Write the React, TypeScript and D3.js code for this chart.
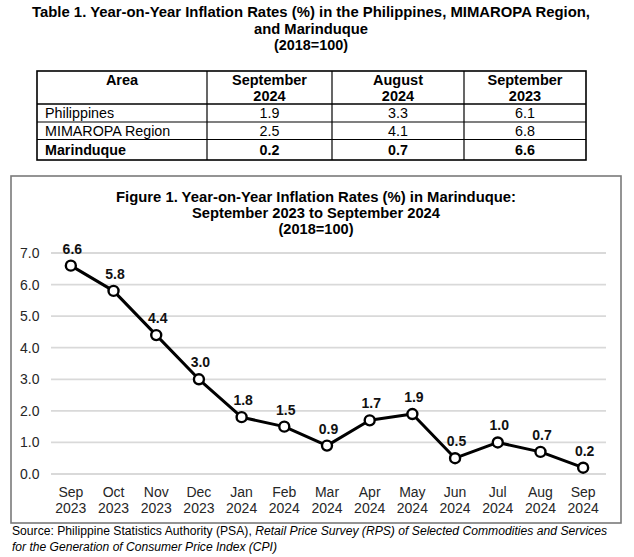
import React from "react";
import * as d3 from "d3";

const months = ["Sep", "Oct", "Nov", "Dec", "Jan", "Feb", "Mar", "Apr", "May", "Jun", "Jul", "Aug", "Sep"];
const years = ["2023", "2023", "2023", "2023", "2024", "2024", "2024", "2024", "2024", "2024", "2024", "2024", "2024"];
const values = [6.6, 5.8, 4.4, 3.0, 1.8, 1.5, 0.9, 1.7, 1.9, 0.5, 1.0, 0.7, 0.2];
const yTicks = [0, 1, 2, 3, 4, 5, 6, 7];

const tableTitle = [
  "Table 1. Year-on-Year Inflation Rates (%) in the Philippines, MIMAROPA Region,",
  "and Marinduque",
  "(2018=100)",
];
const tableHeader = [["Area"], ["September", "2024"], ["August", "2024"], ["September", "2023"]];
const areas = ["Philippines", "MIMAROPA Region", "Marinduque"];
const sep2024 = ["1.9", "2.5", "0.2"];
const aug2024 = ["3.3", "4.1", "0.7"];
const sep2023 = ["6.1", "6.8", "6.6"];

const chartTitle = [
  "Figure 1. Year-on-Year Inflation Rates (%) in Marinduque:",
  "September 2023 to September 2024",
  "(2018=100)",
];

const FONT = "'Liberation Sans', Arial, sans-serif";

export default function App() {
  const cats = months.map((m, i) => `${m} ${years[i]}-${i}`);
  const x = d3.scalePoint<string>().domain(cats).range([49.5, 604.5]).padding(0.5);
  const y = d3.scaleLinear().domain([0, 7]).range([474, 253]);
  const line = d3
    .line<number>()
    .x((_, i) => x(cats[i]) as number)
    .y((d) => y(d));

  const colX = [37, 207, 332, 464, 586];
  const rowY = [71, 104, 122, 139.5, 160];
  const cols = [areas, sep2024, aug2024, sep2023];

  const titleWidths = [558, 114, 74];
  const chartTitleWidths = [400, 248, 75];

  return (
    <svg
      width={634}
      height={557}
      style={{ position: "absolute", left: 0, top: 0, background: "#fff" }}
      fontFamily={FONT}
    >
      {/* Table title */}
      {tableTitle.map((t, i) => (
        <text
          key={i}
          x={311}
          y={17 + i * 16.5}
          textAnchor="middle"
          fontWeight="bold"
          fontSize={15}
          fill="#000"
          textLength={titleWidths[i]}
          lengthAdjust="spacingAndGlyphs"
        >
          {t}
        </text>
      ))}

      {/* Table */}
      <g>
        <rect x={colX[0]} y={rowY[0]} width={colX[4] - colX[0]} height={rowY[4] - rowY[0]} fill="none" stroke="#000" strokeWidth={1.6} />
        {colX.slice(1, 4).map((cx, i) => (
          <line key={i} x1={cx} x2={cx} y1={rowY[0]} y2={rowY[4]} stroke="#000" strokeWidth={1.2} />
        ))}
        {rowY.slice(1, 4).map((ry, i) => (
          <line key={i} x1={colX[0]} x2={colX[4]} y1={ry} y2={ry} stroke="#000" strokeWidth={i === 0 ? 1.4 : 1.2} />
        ))}
        {tableHeader.map((lines, c) =>
          lines.map((t, k) => (
            <text
              key={`${c}-${k}`}
              x={(colX[c] + colX[c + 1]) / 2}
              y={84.5 + k * 16}
              textAnchor="middle"
              fontWeight="bold"
              fontSize={14.5}
              fill="#000"
            >
              {t}
            </text>
          ))
        )}
        {cols.map((col, c) =>
          col.map((t, r) => (
            <text
              key={`${c}-${r}`}
              x={c === 0 ? colX[0] + 8 : (colX[c] + colX[c + 1]) / 2}
              y={[118.3, 136, 154.5][r]}
              textAnchor={c === 0 ? "start" : "middle"}
              fontWeight={r === 2 ? "bold" : "normal"}
              fontSize={14.3}
              fill="#000"
            >
              {t}
            </text>
          ))
        )}
      </g>

      {/* Chart frame */}
      <rect x={11} y={176} width={610} height={347} fill="#fff" stroke="#7a7a7a" strokeWidth={1.6} />

      {chartTitle.map((t, i) => (
        <text
          key={i}
          x={316}
          y={201.5 + i * 16.3}
          textAnchor="middle"
          fontWeight="bold"
          fontSize={14}
          fill="#000"
          textLength={chartTitleWidths[i]}
          lengthAdjust="spacingAndGlyphs"
        >
          {t}
        </text>
      ))}

      {/* Gridlines and y labels */}
      {yTicks.map((t) => (
        <g key={t}>
          <line x1={51} x2={606} y1={y(t)} y2={y(t)} stroke="#d9d9d9" strokeWidth={1.8} />
          <text x={39.5} y={y(t) + 5} textAnchor="end" fontSize={14} fill="#262626">
            {d3.format(".1f")(t)}
          </text>
        </g>
      ))}

      {/* X labels */}
      {cats.map((c, i) => (
        <g key={c}>
          <text x={x(c)} y={497} textAnchor="middle" fontSize={14} fill="#262626">
            {months[i]}
          </text>
          <text x={x(c)} y={513} textAnchor="middle" fontSize={14} fill="#262626">
            {years[i]}
          </text>
        </g>
      ))}

      {/* Line */}
      <path d={line(values) || ""} fill="none" stroke="#000" strokeWidth={3} strokeLinejoin="round" />
      {values.map((v, i) => (
        <circle key={i} cx={x(cats[i])} cy={y(v)} r={5} fill="#fff" stroke="#000" strokeWidth={2.4} />
      ))}
      {values.map((v, i) => (
        <text
          key={i}
          x={(x(cats[i]) as number) + 1.5}
          y={y(v) - 12}
          textAnchor="middle"
          fontWeight="bold"
          fontSize={14}
          fill="#111"
        >
          {d3.format(".1f")(v)}
        </text>
      ))}

      {/* Source */}
      <text x={12} y={535} fontSize={12.5} fill="#000" textLength={595} lengthAdjust="spacingAndGlyphs">
        Source: Philippine Statistics Authority (PSA),{" "}
        <tspan fontStyle="italic">Retail Price Survey (RPS) of Selected Commodities and Services</tspan>
      </text>
      <text x={12} y={550.5} fontSize={12.5} fontStyle="italic" fill="#000" textLength={265} lengthAdjust="spacingAndGlyphs">
        for the Generation of Consumer Price Index (CPI)
      </text>
    </svg>
  );
}
